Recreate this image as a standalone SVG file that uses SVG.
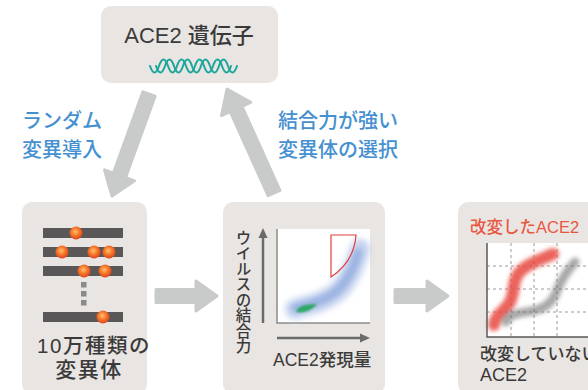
<svg xmlns="http://www.w3.org/2000/svg" width="588" height="390" viewBox="0 0 588 390">
  <defs>
    <style>
      .box { fill: #e9e5e2; }
      .t { font-family: "Liberation Sans", "Noto Sans CJK JP", sans-serif; font-weight: 500; fill: #3a3a3a; }
      .blue { font-family: "Liberation Sans", "Noto Sans CJK JP", sans-serif; font-weight: 500; fill: #4590d0; font-size: 20px; }
      .bigarrow { fill: #c9caca; stroke: #c9caca; stroke-width: 3; stroke-linejoin: round; }
      .bar { fill: #595757; }
      .helix { fill: none; stroke: #1ba69b; stroke-width: 2; stroke-linecap: round; }
      .axis { stroke: #6b6b6b; stroke-width: 2.5; fill: none; }
      .grid { stroke: #9a9a9a; stroke-width: 1; stroke-dasharray: 3 3; fill: none; }
    </style>
    <radialGradient id="dotGrad" cx="0.45" cy="0.4" r="0.6">
      <stop offset="0" stop-color="#ffc070"/>
      <stop offset="0.5" stop-color="#f57a2a"/>
      <stop offset="1" stop-color="#e0421c"/>
    </radialGradient>
    <filter id="soft3" x="-30%" y="-30%" width="160%" height="160%">
      <feGaussianBlur stdDeviation="3"/>
    </filter>
    <filter id="soft2" x="-30%" y="-30%" width="160%" height="160%">
      <feGaussianBlur stdDeviation="2"/>
    </filter>
    <filter id="soft1" x="-30%" y="-30%" width="160%" height="160%">
      <feGaussianBlur stdDeviation="0.8"/>
    </filter>
  </defs>

  <rect width="588" height="390" fill="#ffffff"/>

  <!-- connectors -->
  <g id="connectors">
    <polygon class="bigarrow" points="142.9,91.8 155.1,96.2 125.6,177.5 134.5,180.8 112,196 104.5,169.8 113.4,173.1"/>
    <polygon class="bigarrow" points="268.1,195.7 279.9,190.3 242,106.3 250.7,102.4 227,89 221.5,115.6 230.2,111.7"/>
    <polygon class="bigarrow" points="156,289.5 196,289.5 196,281 217,296 196,311 196,302.5 156,302.5"/>
    <polygon class="bigarrow" points="395,289.5 427,289.5 427,281 448,296 427,311 427,302.5 395,302.5"/>
  </g>

  <!-- edge labels -->
  <g id="labels">
    <text class="blue" x="22" y="128">ランダム</text>
    <text class="blue" x="22" y="157">変異導入</text>
    <text class="blue" x="278" y="128">結合力が強い</text>
    <text class="blue" x="278" y="157">変異体の選択</text>
  </g>

  <!-- ACE2 gene -->
  <g id="gene">
    <rect class="box" x="101" y="6" width="177" height="77" rx="10"/>
    <text class="t" x="189" y="43" font-size="22" text-anchor="middle">ACE2 遺伝子</text>
    <!-- two strands, phase-shifted for major/minor grooves -->
    <path class="helix" d="M150,66 q4.5,13 9,0 t9,0 t9,0 t9,0 t9,0 t9,0 t9,0 t9,0 t9,0"/>
    <path class="helix" d="M156,66 q4.5,13 9,0 t9,0 t9,0 t9,0 t9,0 t9,0 t9,0 t9,0 t9,0"/>
  </g>

  <!-- variant library -->
  <g id="library">
    <rect class="box" x="22" y="202" width="125" height="192" rx="10"/>
    <rect class="bar" x="43" y="228" width="80" height="10"/>
    <rect class="bar" x="43" y="247" width="80" height="10"/>
    <rect class="bar" x="43" y="266" width="80" height="10"/>
    <rect class="bar" x="43" y="312" width="80" height="10"/>
    <rect x="81" y="282" width="5.5" height="5.5" fill="#8a8a8a"/>
    <rect x="81" y="291" width="5.5" height="5.5" fill="#8a8a8a"/>
    <rect x="81" y="300" width="5.5" height="5.5" fill="#8a8a8a"/>
    <g fill="url(#dotGrad)">
      <circle cx="76" cy="233" r="6.5"/>
      <circle cx="62" cy="252" r="6.5"/>
      <circle cx="94" cy="252" r="6.5"/>
      <circle cx="109" cy="252" r="6.5"/>
      <circle cx="84" cy="271" r="6.5"/>
      <circle cx="105" cy="271" r="6.5"/>
      <circle cx="103" cy="317" r="6.5"/>
    </g>
    <text class="t" x="94" y="353" font-size="20.5" letter-spacing="1.5" text-anchor="middle">10万種類の</text>
    <text class="t" x="89" y="377" font-size="21" letter-spacing="1.5" text-anchor="middle">変異体</text>
  </g>

  <!-- binding screen -->
  <g id="screen">
    <rect class="box" x="223" y="202" width="162" height="192" rx="10"/>
    <rect x="277" y="229" width="93" height="94" fill="#ffffff"/>
    <path d="M277,229 V323 H370" fill="none" stroke="#8c8c8c" stroke-width="1.5"/>
    <path class="axis" d="M263,323 V236"/>
    <polygon points="263,228 258.5,238 267.5,238" fill="#6b6b6b"/>
    <path class="axis" d="M277,338 H362"/>
    <polygon points="370,338 360,333.5 360,342.5" fill="#6b6b6b"/>
    <path d="M295,309 C310,305 328,301 340,289 C350,278 356,263 360,249" fill="none" stroke="#c3d1ee" stroke-width="20" stroke-linecap="round" filter="url(#soft3)"/>
    <path d="M296,308 C311,304 328,300 339,289 C349,278 355,264 358,253" fill="none" stroke="#9fb5e3" stroke-width="9" stroke-linecap="round" filter="url(#soft2)"/>
    <path d="M296,312 C297,306 306,304 317,304 C313,309 305,314 296,312 Z" fill="#2fa763" filter="url(#soft1)"/>
    <path d="M331,235 H356 Q354,262 331,277 Z" fill="none" stroke="#e0403e" stroke-width="1.2"/>
    <text class="t" x="242" y="230" font-size="15.5" style="writing-mode: vertical-rl">ウイルスの結合力</text>
    <text class="t" x="273" y="366" font-size="17.5">ACE2発現量</text>
  </g>

  <!-- engineered ACE2 -->
  <g id="engineered">
    <rect class="box" x="458" y="202" width="140" height="192" rx="10"/>
    <text x="470" y="233" font-size="16.5" font-weight="500" font-family="Liberation Sans, Noto Sans CJK JP, sans-serif" fill="#e9573f">改変したACE2</text>
    <rect x="487" y="243" width="101" height="94" fill="#ffffff"/>
    <path class="grid" d="M511,243 V337 M534,243 V337 M557,243 V337 M487,266 H588 M487,289 H588 M487,312 H588"/>
    <path d="M494,325 C495,314 506,310 510,302 C515,292 512,283 518,274 C526,264 540,260 553,254" fill="none" stroke="#e8483f" stroke-opacity="0.85" stroke-width="12" stroke-linecap="round" filter="url(#soft2)"/>
    <path d="M506,322 C508,314 520,313 532,311 C545,309 552,303 556,293 C560,282 566,272 575,262" fill="none" stroke="#6e6e6e" stroke-opacity="0.6" stroke-width="9" stroke-linecap="round" filter="url(#soft2)"/>
    <path d="M487,243 V337 H588" fill="none" stroke="#5a5a5a" stroke-width="1.5"/>
    <text class="t" x="480" y="360" font-size="17">改変していない</text>
    <text class="t" x="480" y="381" font-size="18">ACE2</text>
  </g>
</svg>
